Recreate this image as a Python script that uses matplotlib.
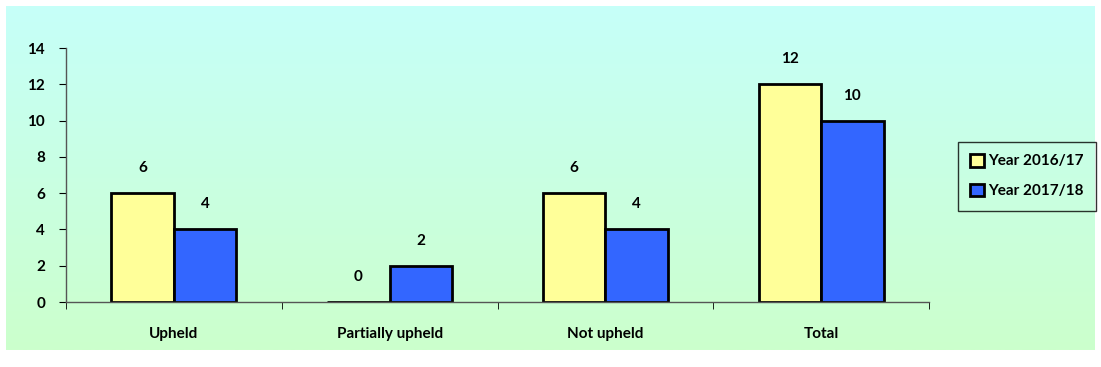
import numpy as np
import matplotlib.pyplot as plt
from matplotlib.colors import LinearSegmentedColormap

# complaint outcomes by year
categories = ["Upheld", "Partially upheld", "Not upheld", "Total"]
series_names = ["Year 2016/17", "Year 2017/18"]
year_1617 = [6, 0, 6, 12]
year_1718 = [4, 2, 4, 10]
yticks = [0, 2, 4, 6, 8, 10, 12, 14]

plt.rcParams['font.family'] = ['Lato', 'DejaVu Sans']
plt.rcParams['font.weight'] = 'bold'
fs = 11

fig = plt.figure(figsize=(11.01, 3.67), dpi=100)

# gradient panel behind the chart
bg = fig.add_axes([6/1101, 1 - 350/367, 1089/1101, 344/367])
bg.set_axis_off()
cmap = LinearSegmentedColormap.from_list("panel", ["#C6FFF9", "#CCFFCC"])
bg.imshow(np.linspace(0, 1, 256).reshape(-1, 1), aspect='auto', cmap=cmap,
          extent=[0, 1, 0, 1])

ax = fig.add_axes([66/1101, 1 - 302/367, (929 - 66)/1101, (302 - 48)/367])
ax.patch.set_alpha(0)

x = np.arange(len(categories))
w = 0.29
b1 = ax.bar(x - w/2, year_1617, w, color="#FFFF99", edgecolor="black",
            linewidth=2, label=series_names[0])
b2 = ax.bar(x + w/2, year_1718, w, color="#3366FF", edgecolor="black",
            linewidth=2, label=series_names[1])

for bars, vals in [(b1, year_1617), (b2, year_1718)]:
    for r, v in zip(bars, vals):
        ax.annotate(str(v), (r.get_x() + r.get_width()/2, v),
                    xytext=(0, 25), textcoords="offset pixels",
                    ha="center", va="center", fontsize=fs, fontweight="bold")

ax.set_xlim(-0.5, len(categories) - 0.5)
ax.set_ylim(0, 14)
ax.set_yticks(yticks)
ax.set_yticklabels([str(t) for t in yticks], fontsize=fs, fontweight="bold")
ax.set_xticks(x)
ax.set_xticklabels(categories, fontsize=fs, fontweight="bold")
ax.tick_params(axis='x', length=0, pad=18)
ax.set_xticks(np.arange(-0.5, len(categories)), minor=True)
ax.tick_params(axis='x', which='minor', length=5, direction='out')
ax.tick_params(axis='y', length=5, direction='out', pad=10)
for s in ["top", "right"]:
    ax.spines[s].set_visible(False)
for s in ["left", "bottom"]:
    ax.spines[s].set_color("#555555")
    ax.spines[s].set_linewidth(1)

leg = fig.legend(loc="upper left", bbox_to_anchor=(950/1101, 1 - 134/367),
                 fontsize=fs, frameon=True, fancybox=False, edgecolor="black",
                 handlelength=0.9, handleheight=0.9, handletextpad=0.3,
                 labelspacing=1.0, borderpad=0.8)
leg.get_frame().set_facecolor("none")
leg.get_frame().set_linewidth(1)

fig.savefig("out.png", dpi=100)
